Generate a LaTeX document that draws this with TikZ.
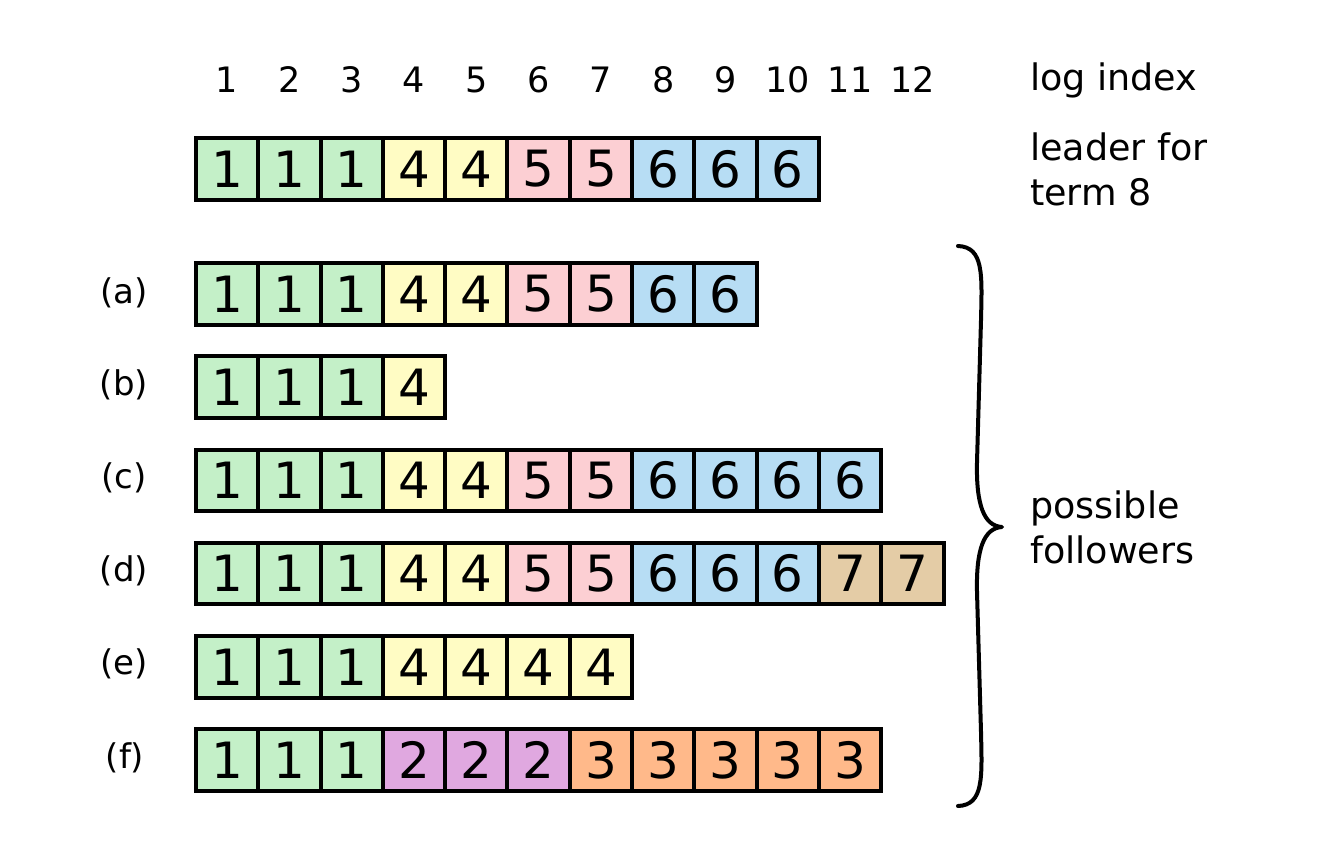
\documentclass[tikz,border=0pt]{standalone}
\usepackage{fontspec}
\setmainfont{DejaVu Sans}
\definecolor{t1}{HTML}{C4F0C8}
\definecolor{t2}{HTML}{E0A8E0}
\definecolor{t3}{HTML}{FFB98A}
\definecolor{t4}{HTML}{FFFCC4}
\definecolor{t5}{HTML}{FCCFD3}
\definecolor{t6}{HTML}{B7DDF4}
\definecolor{t7}{HTML}{E4CCA6}
\tikzset{
  cell/.style={draw=black, line width=4pt, minimum width=62.3pt, minimum height=61.5pt,
    inner sep=0pt, anchor=center, font=\fontsize{50}{50}\selectfont},
  idx/.style={inner sep=0pt, anchor=center, font=\fontsize{35}{35}\selectfont},
  lbl/.style={inner sep=0pt, anchor=west, align=left, font=\fontsize{36.5}{45}\selectfont},
  rowlbl/.style={inner sep=0pt, anchor=center, font=\fontsize{34}{34}\selectfont},
  brace/.style={line width=4pt, line cap=round, line join=round}
}
\begin{document}
\begin{tikzpicture}[x=1pt,y=-1pt]
\useasboundingbox (0,0) rectangle (1332,846);
% index labels
\foreach \i in {1,...,12} {
  \node[idx] (i\i) at ({227.1+62.3*(\i-1)},80) {\i};
}
\node[lbl] (logidx) at (1030,80) {log index};
\node[lbl] (leadtxt) at (1030,169.5) {leader for\\term 8};
% rows
\foreach \r/\y/\terms in {
  L/168.8/{1,1,1,4,4,5,5,6,6,6},
  a/294/{1,1,1,4,4,5,5,6,6},
  b/387.2/{1,1,1,4},
  c/480.4/{1,1,1,4,4,5,5,6,6,6,6},
  d/573.6/{1,1,1,4,4,5,5,6,6,6,7,7},
  e/666.8/{1,1,1,4,4,4,4},
  f/760/{1,1,1,2,2,2,3,3,3,3,3}} {
  \foreach \t [count=\i] in \terms {
    \node[cell, fill=t\t] (\r\i) at ({227.1+62.3*(\i-1)},\y) {\t};
  }
}
% row labels
\node[rowlbl] (la) at (124,293) {(a)};
\node[rowlbl] (lb) at (124,385) {(b)};
\node[rowlbl] (lc) at (124,478) {(c)};
\node[rowlbl] (ld) at (124,571) {(d)};
\node[rowlbl] (le) at (124,664) {(e)};
\node[rowlbl] (lf) at (125,758) {(f)};
% brace
\draw[brace] (958,246) .. controls (984,247) and (982,275) .. (981,320)
  -- (977,462) .. controls (976,505) and (984,526) .. (1002,527)
  .. controls (984,528) and (976,549) .. (977,592)
  -- (981,732) .. controls (982,777) and (984,805) .. (958,806);
\node[lbl] (foll) at (1030,527) {possible\\followers};
\end{tikzpicture}
\end{document}
